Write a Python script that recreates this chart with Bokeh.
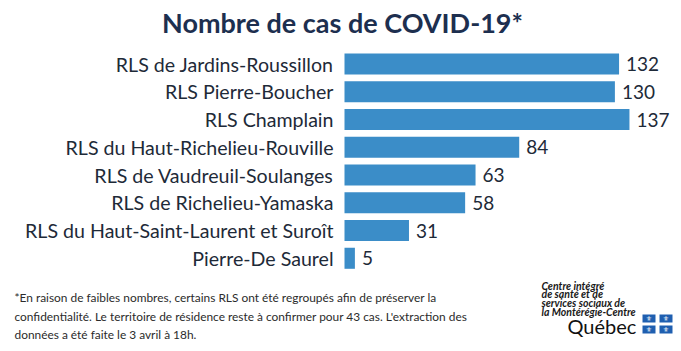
from bokeh.plotting import figure
from bokeh.models import Range1d, Label, ColumnDataSource, BoxAnnotation
from bokeh.core.properties import value
from bokeh.embed import file_html
from bokeh.resources import INLINE

categories = [
    "RLS de Jardins-Roussillon",
    "RLS Pierre-Boucher",
    "RLS Champlain",
    "RLS du Haut-Richelieu-Rouville",
    "RLS de Vaudreuil-Soulanges",
    "RLS de Richelieu-Yamaska",
    "RLS du Haut-Saint-Laurent et Suroît",
    "Pierre-De Saurel",
]
cases = [132, 130, 137, 84, 63, 58, 31, 5]
value_labels = [str(v) for v in cases]

title_text = "Nombre de cas de COVID-19*"
footnote_lines = [
    "*En raison de faibles nombres, certains RLS ont été regroupés afin de préserver la",
    "confidentialité. Le territoire de résidence reste à confirmer pour 43 cas.  L'extraction des",
    "données a été faite le 3 avril à 18h.",
]
logo_lines = ["Centre intégré", "de santé et de", "services sociaux de", "la Montérégie-Centre"]

FONT = "Lato"
NAVY = "#1d2f4f"
TEXT = "#1e2a38"
BAR = "#3b8dc8"

W, H = 681, 351
X0 = 344          # pixel where bars start
PX_PER_CASE = 2.08
PITCH = 27.75     # pixels per category
TOP_CENTER = 63.5 # pixel centre of first bar

n = len(categories)
rows = [n - 1 - i for i in range(n)]   # first category at the top
y_end = (n - 1) + TOP_CENTER / PITCH
y_start = (n - 1) - (H - TOP_CENTER) / PITCH

src = ColumnDataSource(dict(cat=categories, row=rows, val=cases, lab=value_labels,
                            zero=[0] * n))

p = figure(
    width=W, height=H, output_backend="svg", toolbar_location=None,
    x_range=Range1d(-X0 / PX_PER_CASE, (W - X0) / PX_PER_CASE),
    y_range=Range1d(y_start, y_end),
    min_border=0, outline_line_color=None,
    background_fill_color="white", border_fill_color="white",
)
p.xaxis.visible = False
p.yaxis.visible = False
p.grid.visible = False

p.hbar(y="row", right="val", left=0, height=0.76, source=src,
       fill_color=BAR, line_color=None)
p.text(x="val", y="row", text="lab", source=src, x_offset=7,
       text_baseline="middle", text_align="left",
       text_font=value(FONT), text_font_size="19px", text_color=TEXT)
p.text(x="zero", y="row", text="cat", source=src, x_offset=-11,
       text_baseline="middle", text_align="right",
       text_font=value(FONT), text_font_size="19.6px", text_color=TEXT)


def add_label(x, y, text, size, color, style="normal", align="left", font=FONT, **kw):
    # x, y in canvas pixels (y measured from the top)
    p.add_layout(Label(
        x=x, y=H - y, x_units="screen", y_units="screen", text=text,
        text_font=font, text_font_size=size, text_color=color,
        text_font_style=style, text_align=align, text_baseline="middle", **kw))


add_label(342, 22, title_text, "27px", NAVY, style="bold", align="center")

for i, line in enumerate(footnote_lines):
    add_label(14, 297 + i * 18.5, line, "11.9px", "#2b2b2b")

for i, line in enumerate(logo_lines):
    add_label(541, 285 + i * 8.8, line, "10.5px", "#1a1a1a", style="bold italic")
add_label(567, 325, "Québec", "20px", "#111111")

# Quebec flag: four blue quarters separated by a white cross
FLAG = "#1f5fb0"
for qx in (642, 659):
    for qy in (314, 325):
        p.add_layout(BoxAnnotation(
            left=qx, right=qx + 13, top=H - qy, bottom=H - qy - 8,
            left_units="screen", right_units="screen",
            top_units="screen", bottom_units="screen",
            fill_color=FLAG, fill_alpha=1, line_color=None))
        add_label(qx + 6.5, qy + 4, "⚜", "7px", "white", align="center",
                  font="DejaVu Sans")

open("out.html", "w").write(file_html(p, INLINE))
